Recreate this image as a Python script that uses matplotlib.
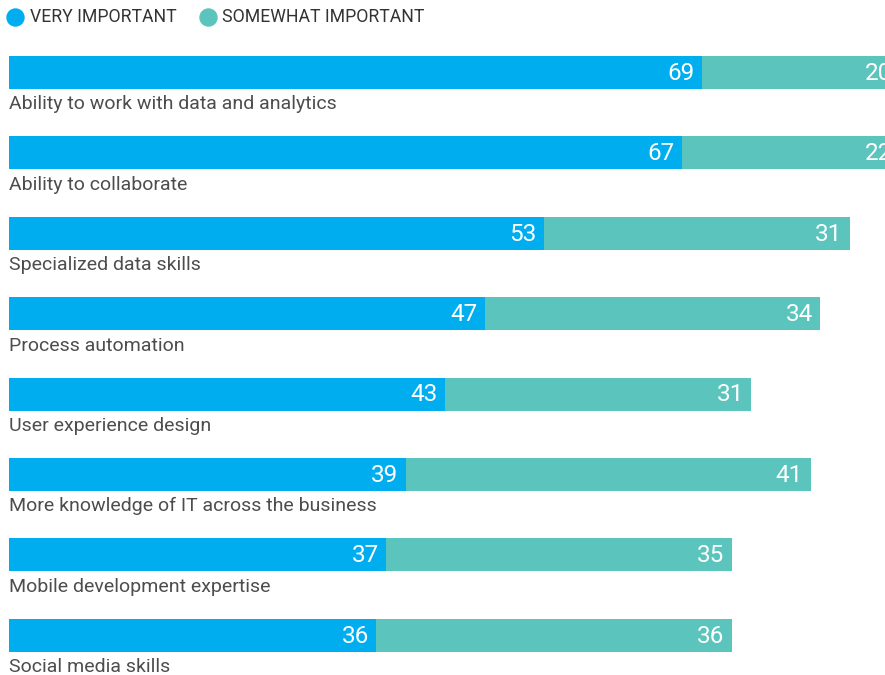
import matplotlib.pyplot as plt
import numpy as np

plt.rcParams['font.family'] = ['Roboto', 'DejaVu Sans']

skills = ['Ability to work with data and analytics', 'Ability to collaborate',
          'Specialized data skills', 'Process automation', 'User experience design',
          'More knowledge of IT across the business', 'Mobile development expertise',
          'Social media skills']
very = [69, 67, 53, 47, 43, 39, 37, 36]
somewhat = [20, 22, 31, 34, 31, 41, 35, 36]

blue = '#00AEEF'
teal = '#5BC5BD'
pad = 1.22  # bars stick out a little left of zero

fig = plt.figure(figsize=(8.85, 6.75), dpi=100)
ax = fig.add_axes([0, 0, 1, 1])
y = np.arange(len(skills))
h = 0.41

v = np.array(very)
s = np.array(somewhat)
ax.barh(y, v + pad, height=h, color=blue, left=-pad)
ax.barh(y, s, height=h, color=teal, left=v)

for i in range(len(skills)):
    ax.text(v[i] - 0.75, y[i] + 0.01, str(very[i]), color='white', fontsize=17.5,
            ha='right', va='center')
    ax.text(v[i] + s[i] - 0.75, y[i] + 0.01, str(somewhat[i]), color='white',
            fontsize=17.5, ha='right', va='center')
    ax.text(-pad, y[i] + 0.46, skills[i], color='#4d4d4d', fontsize=14,
            ha='left', va='baseline')

# legend
ax.scatter([-0.61], [-0.69], s=150, color=blue, clip_on=False)
ax.text(0.91, -0.69, 'VERY IMPORTANT', fontsize=12.7, color='#333333',
        va='center', ha='left')
ax.scatter([18.95], [-0.69], s=150, color=teal, clip_on=False)
ax.text(20.36, -0.69, 'SOMEWHAT IMPORTANT', fontsize=12.7, color='#333333',
        va='center', ha='left')

ax.set_xlim(-2.128, 87.54)
ax.set_ylim(7.494, -0.902)
ax.axis('off')

fig.savefig('out.png', dpi=100)
